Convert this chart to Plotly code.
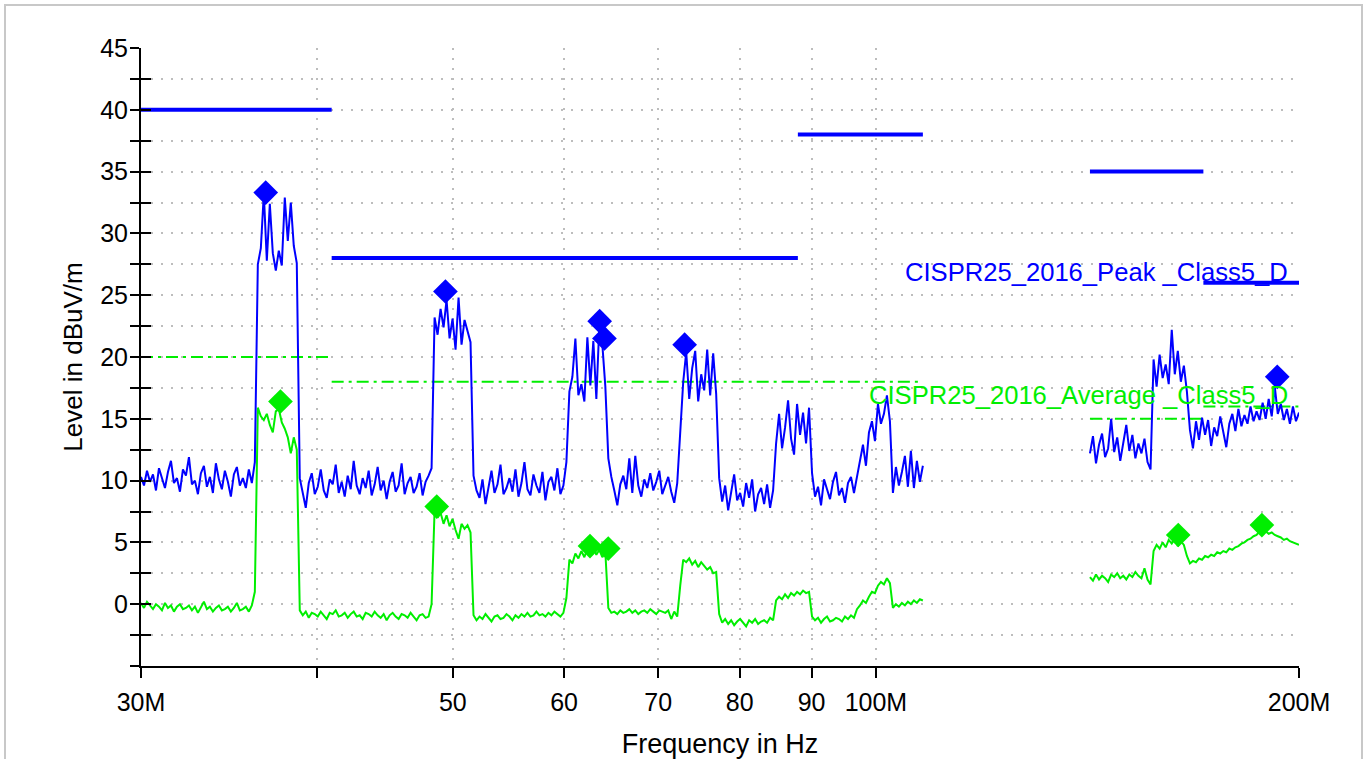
import numpy as np
import plotly.graph_objects as go

# ---------------- data ----------------
# scan bands in MHz (log-spaced sweep points)
scan_start = [30.0, 142.0]
scan_stop = [108.0, 200.0]

# Peak detector trace, 30 - 108 MHz  (dBuV/m)
peak_30_108 = [
    10.3, 9.6, 10.8, 9.9, 10.5, 9.2, 11.0, 10.1, 9.4, 10.7, 11.6, 9.8, 10.2, 9.1, 10.9, 10.4, 11.9, 9.7, 10.0, 8.9,
    10.6, 11.2, 9.5, 10.3, 9.0, 11.4, 10.1, 9.3, 10.8, 9.9, 8.7, 10.5, 11.1, 9.6, 10.2, 9.4, 10.9, 9.8,
    11.5,
    27.5, 28.8, 33.2, 27.8, 32.4, 28.4, 27.0, 28.6, 27.4, 32.9, 29.4, 32.5, 29.0, 27.6,
    10.2, 9.1, 7.8, 9.8, 10.6, 8.9, 9.5, 10.9, 9.2, 8.6, 10.1, 9.7, 11.3, 9.0, 9.9, 8.7, 10.4, 9.3, 11.6, 9.6,
    8.9, 10.2, 9.4, 10.8, 8.8, 9.7, 11.1, 9.2, 10.0, 8.5, 9.9, 10.7, 9.1, 9.6, 11.4, 8.9, 9.8, 10.3, 9.0, 9.5,
    10.6, 8.8, 9.9, 10.4,
    11.0,
    23.2, 21.8, 23.9, 22.4, 24.6, 21.5, 23.1, 20.6, 24.8, 21.0, 23.0, 22.1, 21.2,
    10.4, 9.2, 8.6, 10.1, 8.1, 9.5, 10.8, 9.0, 9.7, 11.3, 8.9, 9.4, 10.2, 9.1, 10.9, 8.7, 9.8, 11.5, 9.3, 8.8,
    10.5, 9.6, 9.0, 10.7, 8.4, 9.9, 10.3, 9.2, 11.0, 8.9, 9.6,
    11.5,
    17.2, 18.4, 21.5, 16.9, 17.8, 16.4, 21.6, 17.7, 21.3, 16.6, 22.6, 21.0, 17.6,
    11.8, 10.3, 9.2, 8.0, 9.7, 10.4, 9.3, 11.8, 9.0, 12.0, 9.6, 8.7, 10.1, 9.4, 10.6, 9.2, 9.9, 10.8, 8.9, 9.6,
    10.3, 9.1, 8.2, 9.8,
    14.0,
    18.0, 20.4, 16.6, 19.1, 20.5, 16.4, 18.6, 17.3, 20.6, 16.9, 20.3, 17.0,
    10.2, 8.3, 9.6, 7.6, 9.1, 10.5, 8.4, 9.0, 7.9, 9.8, 8.6, 10.1, 7.5, 8.9, 9.4, 8.1, 9.7, 7.8, 9.2,
    13.0,
    15.4, 12.6, 14.3, 16.5, 13.4, 12.1, 16.2, 13.7, 15.5, 13.0, 15.9,
    10.6, 8.7, 9.5, 8.0, 10.1, 9.3, 8.5, 9.9, 10.7, 8.8, 9.4, 8.2, 9.8, 10.3, 9.0,
    10.3, 11.6, 12.9, 11.2, 13.9, 14.8, 13.2, 16.2, 14.6, 15.4, 16.9, 14.8,
    9.0, 11.1, 9.6, 10.7, 12.0, 9.5, 12.4, 9.4, 11.6, 9.9, 11.2,
]

# Average detector trace, 30 - 108 MHz
avg_30_108 = [
    0.1, -0.3, 0.2, -0.1, -0.4, 0.0, -0.2, -0.5, 0.1, -0.3, -0.1, -0.6, -0.2, 0.0, -0.4, -0.3, -0.1, -0.5, -0.2, -0.7,
    -0.3, 0.2, -0.4, -0.2, -0.6, -0.3, -0.1, -0.5, -0.4, -0.2, -0.6, -0.3, 0.1, -0.5, -0.4, -0.2, -0.6, -0.1,
    1.0,
    15.9, 15.2, 14.9, 15.4, 14.5, 13.9, 15.6, 15.8, 14.7, 14.2, 13.5, 12.2, 13.5, 12.5,
    -0.5, -0.9, -0.6, -1.1, -0.7, -0.8, -1.0, -0.6, -0.9, -1.2, -0.7, -0.8, -0.5, -1.0, -0.9, -0.7, -1.1, -0.8, -0.6, -1.0,
    -0.9, -1.2, -0.7, -0.8, -1.0, -0.6, -0.9, -1.1, -0.8, -1.3, -0.9, -0.7, -1.0, -1.2, -0.8, -0.9, -1.1, -0.7, -1.0, -1.3,
    -0.9, -0.8, -1.1, -1.0,
    0.0,
    7.6, 7.0, 7.4, 6.5, 7.2, 6.3, 6.9, 6.0, 5.3, 6.5, 6.1, 6.4, 5.8,
    -0.9, -1.3, -1.0, -1.2, -0.8, -1.1, -1.4, -1.0, -0.9, -1.2, -1.1, -0.8, -1.0, -1.3, -0.9, -1.1, -0.8, -1.0, -0.7, -1.0,
    -0.9, -0.6, -0.9, -0.8, -1.0, -0.7, -0.9, -0.6, -0.8, -1.0, -0.7,
    0.5,
    3.6, 3.3, 4.1, 3.7, 4.3, 3.8, 4.5, 3.9, 4.6, 4.0, 4.4, 3.8, 4.2,
    -0.3, -0.7, -0.6, -0.8, -0.5, -0.7, -0.6, -0.4, -0.7, -0.5, -0.8, -0.6, -0.5, -0.7, -0.4, -0.6, -0.8, -0.5, -0.6, -0.7,
    -0.5, -1.2, -0.6, -1.0,
    1.5,
    3.6, 3.4, 3.7, 3.2, 3.5, 3.0, 3.4, 3.1, 2.8, 3.0, 2.5, 2.6,
    -0.8, -1.5, -1.2, -1.6, -1.3, -1.7, -1.4, -1.2, -1.5, -1.8, -1.3, -1.5, -1.2, -1.6, -1.4, -1.3, -1.5, -1.1, -1.3,
    0.3,
    0.6, 0.4, 0.8, 0.5, 0.9, 0.7, 1.0, 0.8, 1.1, 0.9, 1.0,
    -1.0, -1.3, -1.1, -1.5, -1.2, -1.0, -1.4, -1.3, -1.1, -1.2, -1.4, -1.0, -1.2, -0.9, -1.1,
    -0.4, -0.1, 0.3, 0.1, 0.6, 1.0, 0.9, 1.5, 1.8, 1.6, 2.1, 1.7,
    -0.3, 0.0, -0.2, 0.1, -0.1, 0.2, 0.0, 0.3, 0.1, 0.4, 0.3,
]

# Peak detector trace, 142 - 200 MHz
peak_142_200 = [
    12.2, 13.6, 11.4, 12.9, 13.8, 11.9, 12.6, 15.0, 12.3, 13.5, 11.6, 13.2, 14.5, 12.4, 13.7, 11.8, 13.0, 12.2, 13.4, 11.5,
    10.9,
    19.8, 17.6, 20.2, 18.3, 19.4, 17.8, 22.2, 18.6, 20.5, 18.0, 19.3, 17.2,
    14.1, 12.6, 14.8, 13.3, 15.1, 13.7, 14.9, 12.8, 14.3, 13.6, 15.2, 13.9, 12.7, 14.6, 15.4, 14.0, 15.8, 14.4, 15.3, 14.6,
    16.0, 14.8, 15.6, 14.9, 16.3, 15.0, 16.6, 15.2, 17.6, 15.4, 16.2, 14.9, 15.8, 14.6, 16.0, 14.8, 15.5,
]

# Average detector trace, 142 - 200 MHz
avg_142_200 = [
    2.2, 1.9, 2.4, 2.0, 2.3, 2.1, 1.8, 2.4, 2.2, 2.5, 2.1, 2.3, 2.0, 2.4, 2.2, 2.6, 2.3, 2.1, 2.9, 2.0,
    1.6,
    4.3, 4.8, 4.5, 5.0, 4.6, 5.2, 4.9, 5.3, 4.7, 5.1, 4.8, 3.9,
    3.3, 3.5, 3.4, 3.7, 3.6, 3.9, 3.8, 4.0, 3.9, 4.2, 4.1, 4.3, 4.2, 4.5, 4.4, 4.6, 4.7, 4.9, 5.0, 5.2,
    5.3, 5.5, 5.6, 5.9, 6.1, 5.9, 5.7, 5.8, 5.6, 5.5, 5.4, 5.2, 5.3, 5.1, 5.0, 4.9, 4.8,
]

# Limit lines (CISPR25:2016 Class 5)
limit_start = [30, 41, 88, 142, 171]
limit_stop = [41, 88, 108, 171, 200]
peak_limit = [40, 28, 38, 35, 26]
avg_limit = [20, 18, 18, 15, 16]

# Final measurement markers
peak_mk_freq = [36.8, 49.4, 63.6, 64.1, 73.1, 193.0]
peak_mk_level = [33.3, 25.3, 22.9, 21.5, 21.0, 18.4]
avg_mk_freq = [37.7, 48.7, 62.6, 64.5, 164.1, 188.2]
avg_mk_level = [16.4, 7.9, 4.7, 4.5, 5.6, 6.4]

# Axis ticks
x_tickvals = [30, 40, 50, 60, 70, 80, 90, 100, 200]
x_ticktext = ["30M", "", "50", "60", "70", "80", "90", "100M", "200M"]
y_tickvals = [-5, -2.5, 0, 2.5, 5, 7.5, 10, 12.5, 15, 17.5, 20, 22.5, 25, 27.5, 30, 32.5, 35, 37.5, 40, 42.5, 45]
y_ticktext = ["" if (v % 5 != 0 or v < 0) else str(int(v)) for v in y_tickvals]

# ---------------- styles ----------------
BLUE = "#0000ff"
GREEN = "#00ee00"
FONT = "Arial, 'Liberation Sans', sans-serif"


def band_xy(levels_a, levels_b):
    fa = np.geomspace(scan_start[0], scan_stop[0], len(levels_a))
    fb = np.geomspace(scan_start[1], scan_stop[1], len(levels_b))
    x = list(fa) + [None] + list(fb)
    y = list(levels_a) + [None] + list(levels_b)
    return x, y


def limit_xy(levels):
    x, y = [], []
    for s, e, v in zip(limit_start, limit_stop, levels):
        x += [s, e, None]
        y += [v, v, None]
    return x, y


fig = go.Figure()

px, py = band_xy(peak_30_108, peak_142_200)
ax, ay = band_xy(avg_30_108, avg_142_200)
plx, ply = limit_xy(peak_limit)
alx, aly = limit_xy(avg_limit)

fig.add_trace(go.Scatter(x=alx, y=aly, mode="lines",
                         line=dict(color=GREEN, width=2, dash="12px,5px,3px,5px"), hoverinfo="skip"))
fig.add_trace(go.Scatter(x=plx, y=ply, mode="lines",
                         line=dict(color=BLUE, width=4), hoverinfo="skip"))
fig.add_trace(go.Scatter(x=ax, y=ay, mode="lines", line=dict(color=GREEN, width=2)))
fig.add_trace(go.Scatter(x=px, y=py, mode="lines", line=dict(color=BLUE, width=2)))
fig.add_trace(go.Scatter(x=avg_mk_freq, y=avg_mk_level, mode="markers",
                         marker=dict(symbol="diamond", size=19, color=GREEN, line=dict(width=0))))
fig.add_trace(go.Scatter(x=peak_mk_freq, y=peak_mk_level, mode="markers",
                         marker=dict(symbol="diamond", size=19, color=BLUE, line=dict(width=0))))
# companion axis carrying the inner half of the y tick marks
fig.add_trace(go.Scatter(x=[None], y=[None], yaxis="y2", showlegend=False, hoverinfo="skip"))

grid_style = dict(showgrid=True, gridcolor="#bdbdbd", gridwidth=1.8, griddash="2px,8px")

fig.update_layout(
    width=1365, height=759,
    margin=dict(l=141, r=66, t=48, b=93),
    paper_bgcolor="white", plot_bgcolor="white",
    showlegend=False,
    font=dict(family=FONT, size=26, color="black"),
    xaxis=dict(
        type="log", range=[np.log10(30), np.log10(200)], automargin=False,
        tickmode="array", tickvals=x_tickvals, ticktext=x_ticktext,
        ticks="outside", ticklen=10, tickwidth=2, tickcolor="black",
        showline=True, linecolor="black", linewidth=2,
        zeroline=False, ticklabelstandoff=3,
        tickfont=dict(size=25),
        title=dict(text="Frequency in Hz", font=dict(size=27), standoff=22),
        **grid_style,
    ),
    yaxis=dict(
        range=[-5, 45], automargin=False, tickmode="array", tickvals=y_tickvals, ticktext=y_ticktext,
        ticks="outside", ticklen=9, tickwidth=2, tickcolor="black",
        showline=True, linecolor="black", linewidth=2,
        zeroline=False, tickfont=dict(size=25), ticklabelstandoff=-3,
        title=dict(text="Level in dBuV/m", font=dict(size=26), standoff=10),
        **grid_style,
    ),
    yaxis2=dict(
        range=[-5, 45], overlaying="y", side="left", anchor="x", automargin=False,
        tickmode="array", tickvals=y_tickvals, showticklabels=False,
        ticks="inside", ticklen=10, tickwidth=2, tickcolor="black",
        showgrid=False, showline=False, zeroline=False,
    ),
    annotations=[
        dict(text="CISPR25_2016_Peak _Class5_D", xref="paper", yref="paper",
             x=(1290 - 141) / 1158, y=(666 - 272) / 618, xanchor="right", yanchor="middle",
             showarrow=False, font=dict(color=BLUE, size=25.6, family=FONT)),
        dict(text="CISPR25_2016_Average _Class5_D", xref="paper", yref="paper",
             x=(1290 - 141) / 1158, y=(666 - 395) / 618, xanchor="right", yanchor="middle",
             showarrow=False, font=dict(color=GREEN, size=25.6, family=FONT)),
    ],
    shapes=[
        dict(type="rect", xref="paper", yref="paper", layer="below",
             x0=(5 - 141) / 1158, x1=(1362 - 141) / 1158,
             y0=(666 - 790) / 618, y1=(666 - 5) / 618,
             line=dict(color="#c8c8c8", width=2), fillcolor="rgba(0,0,0,0)"),
    ],
)

fig.write_html("out.html", config={"displayModeBar": False},
               post_script="document.body.style.margin='0';document.body.style.overflow='hidden';")
